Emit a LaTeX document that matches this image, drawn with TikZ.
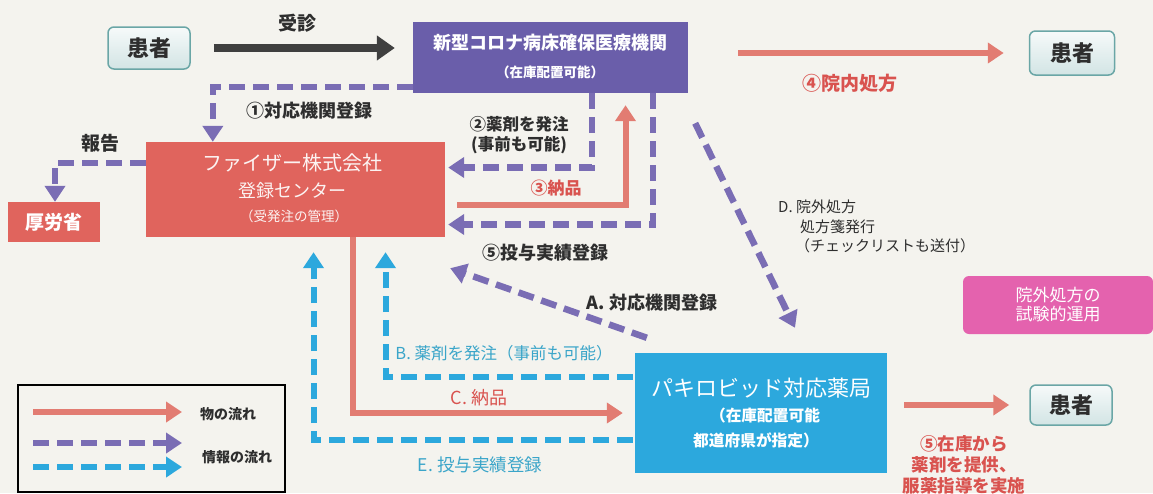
\documentclass[tikz,border=0pt]{standalone}
\usepackage{fontspec}
\setmainfont{Noto Sans CJK JP}
\usetikzlibrary{arrows.meta}
\definecolor{bg}{HTML}{F4F3EE}
\definecolor{hospc}{HTML}{6A5EAA}
\definecolor{purd}{HTML}{7A6DB4}
\definecolor{pfzc}{HTML}{E0645D}
\definecolor{redar}{HTML}{E27C72}
\definecolor{cyanc}{HTML}{2CA8DD}
\definecolor{pinkc}{HTML}{E462AE}
\definecolor{redtxt}{HTML}{D9534F}
\definecolor{cyantxt}{HTML}{3AA5C9}
\definecolor{txt}{HTML}{2E2E2E}
\definecolor{grayar}{HTML}{3F3F3F}
\definecolor{tealb}{HTML}{6AA6A6}
\newcommand\fz[2]{\fontsize{#1}{#2}\selectfont}
\begin{document}
\begin{tikzpicture}[x=1pt,y=-1pt,
  patient/.style={draw=tealb, line width=1.5pt, rounded corners=6pt, top color=white!60!tealb!15, bottom color=tealb!30, minimum width=82pt, minimum height=42pt, inner sep=0pt, font=\fz{22}{24}\bfseries, text=txt},
  box/.style={inner sep=0pt, align=center, text=white},
  lbl/.style={inner sep=0pt, align=center, text=txt},
  redarr/.style={draw=redar, line width=6pt, -{Triangle[length=16pt,width=20pt]}},
  grayarr/.style={draw=grayar, line width=8pt, -{Triangle[length=18pt,width=24pt]}},
  pdash/.style={draw=purd, line width=6.5pt, dash pattern=on 16pt off 8pt, -{Triangle[length=16pt,width=20pt]}},
  cdash/.style={draw=cyanc, line width=6pt, dash pattern=on 16pt off 8pt, -{Triangle[length=16pt,width=20pt]}}
]
\useasboundingbox (0,0) rectangle (1153,493);
\fill[bg] (0,0) rectangle (1153,493);

% boxes
\node[patient] (p1) at (149,48) {患者};
\node[patient, minimum width=85pt, minimum height=44pt] (p2) at (1072,53) {患者};
\node[patient, minimum height=40pt] (p3) at (1071,405) {患者};
\node[box, fill=hospc, minimum width=275pt, minimum height=71pt] (hosp) at (550.5,57.5) {};
\node[box, font=\fz{18}{20}\bfseries] (hospt1) at (550,43) {新型コロナ病床確保医療機関};
\node[box, font=\fz{13.5}{15}\bfseries] (hospt2) at (550,72) {（在庫配置可能）};
\node[box, fill=pfzc, minimum width=299pt, minimum height=95pt] (pfz) at (295.5,189.5) {};
\node[box, font=\fz{20}{22}, text=white!92!pfzc] (pfzt1) at (292,163) {ファイザー株式会社};
\node[box, font=\fz{18}{20}, text=white!92!pfzc] (pfzt2) at (292,191) {登録センター};
\node[box, font=\fz{13.5}{15}, text=white!92!pfzc] (pfzt3) at (294,216) {（受発注の管理）};
\node[box, fill=pfzc, minimum width=92pt, minimum height=40pt, font=\fz{19}{21}\bfseries] (mhlw) at (54,222) {厚労省};
\node[box, fill=cyanc, minimum width=252pt, minimum height=120pt] (pharm) at (761,413) {};
\node[box, font=\fz{22}{24}] (pht1) at (761,388) {パキロビッド対応薬局};
\node[box, font=\fz{15.7}{17}\bfseries] (pht2) at (765,416) {（在庫配置可能};
\node[box, font=\fz{15.7}{17}\bfseries] (pht3) at (756,440) {都道府県が指定）};
\node[box, fill=pinkc, rounded corners=6pt, minimum width=190pt, minimum height=58pt, font=\fz{17}{19}] (pink) at (1058,305) {院外処方の\\試験的運用};

% arrows
\draw[grayarr, shorten <=23pt, shorten >=18pt] (p1.east) -- (p1.east -| hosp.west);
\node[lbl, font=\fz{19}{21}\bfseries] (jushin) at (297,23) {受診};
\draw[redarr, shorten <=50pt, shorten >=25pt] (hosp.east |- p2.west) -- (p2.west);
\node[lbl, font=\fz{19}{21}\bfseries, text=redtxt] (innai) at (850,83) {④院内処方};

\draw[pdash] ([yshift=6pt]hosp.south west) -| ([xshift=67pt]pfz.north west);
\node[lbl, font=\fz{18}{20}\bfseries] (l1) at (309,111) {①対応機関登録};
\draw[pdash] ([yshift=-21pt]pfz.north west) -| ([xshift=1pt]mhlw.north);
\node[lbl, font=\fz{19}{21}\bfseries] (hokoku) at (100,143) {報告};

\draw[pdash] ([xshift=-96pt]hosp.south east) |- ([xshift=3pt,yshift=22pt]pfz.east);
\node[lbl, font=\fz{16.5}{20}\bfseries] (l2) at (519,135) {②薬剤を発注\\(事前も可能)};
\draw[redarr] ([xshift=12pt,yshift=-15pt]pfz.east) -| ([xshift=75pt,yshift=-12pt]hosp.south);
\node[lbl, font=\fz{17}{19}\bfseries, text=redtxt] (l3) at (556,188) {③納品};
\draw[pdash] ([xshift=-35pt]hosp.south east) |- ([xshift=3pt,yshift=-35pt]pfz.east);
\node[lbl, font=\fz{18}{20}\bfseries] (l5) at (545,253) {⑤投与実績登録};

\draw[pdash] ([xshift=7pt,yshift=-30pt]hosp.south east) -- ([xshift=34pt,yshift=25pt]pharm.north);
\node[lbl, anchor=west, font=\fz{15}{17}] (ld1) at (778,207) {D.\ 院外処方};
\node[lbl, anchor=west, font=\fz{15}{17}] (ld2) at (800,227) {処方箋発行};
\node[lbl, anchor=west, font=\fz{15}{17}] (ld3) at (795,246) {（チェックリストも送付）};

\draw[pdash] ([xshift=12pt,yshift=15pt]pharm.north west) -- ([xshift=5pt,yshift=-31pt]pfz.south east);
\node[lbl, font=\fz{18}{20}\bfseries] (la) at (652,303) {A. 対応機関登録};

\draw[cdash] ([xshift=-2pt,yshift=-24pt]pharm.north west) -| ([xshift=90pt,yshift=-15pt]pfz.south);
\node[lbl, font=\fz{16.5}{18}, text=cyantxt] (lb) at (504,353) {B. 薬剤を発注（事前も可能）};
\draw[redarr] ([xshift=57pt]pfz.south) |- ([xshift=-12pt]pharm.west);
\node[lbl, font=\fz{18}{20}, text=redtxt] (lc) at (479,398) {C. 納品};
\draw[cdash] ([xshift=-2pt,yshift=-87pt]pharm.north west) -| ([xshift=18pt,yshift=-15pt]pfz.south);
\node[lbl, font=\fz{17.5}{19}, text=cyantxt] (le) at (480,465) {E. 投与実績登録};

\draw[redarr, shorten <=17pt, shorten >=20pt] (pharm.east |- p3.west) -- (p3.west);
\node[lbl, font=\fz{17.5}{21}\bfseries, text=redtxt] (l5b) at (964,465) {⑤在庫から\\薬剤を提供、\\服薬指導を実施};

% legend
\node[draw=black, line width=1.5pt, minimum width=267pt, minimum height=107pt, inner sep=0pt] (leg) at (151.5,438.5) {};
\coordinate (la1) at (33,412); \coordinate (la2) at (182,412);
\coordinate (lb1) at (33,443); \coordinate (lb2) at (182,443);
\coordinate (lc1) at (33,467); \coordinate (lc2) at (182,467);
\draw[redarr] (la1) -- (la2);
\draw[pdash] (lb1) -- (lb2);
\draw[cdash] (lc1) -- (lc2);
\node[lbl, anchor=west, font=\fz{14}{16}\bfseries] (lt1) at (200,414) {物の流れ};
\node[lbl, anchor=west, font=\fz{14}{16}\bfseries] (lt2) at (202,457) {情報の流れ};
\end{tikzpicture}
\end{document}
